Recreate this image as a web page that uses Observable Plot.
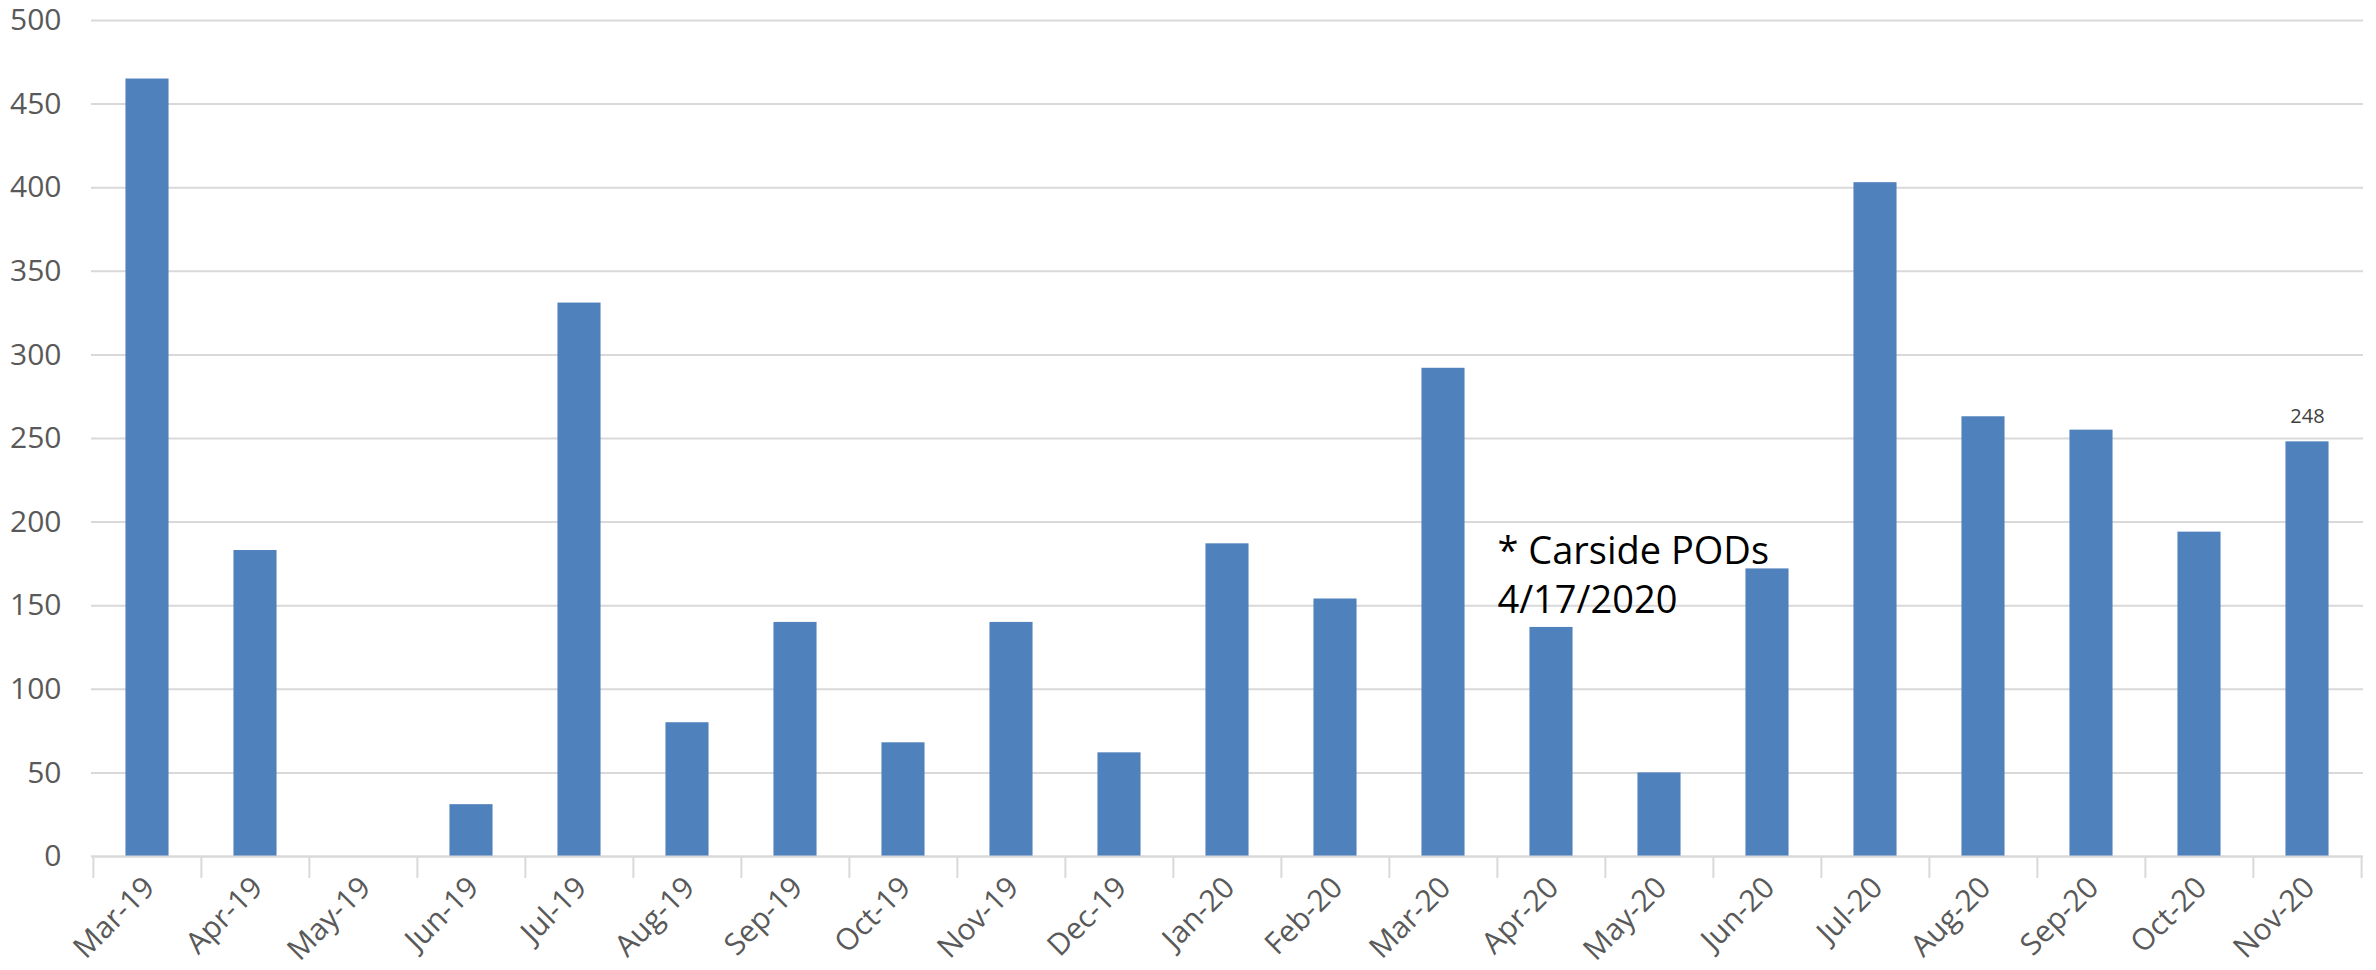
<!DOCTYPE html>
<html><head><meta charset="utf-8">
<script src="https://cdn.jsdelivr.net/npm/d3@7"></script>
<script src="https://cdn.jsdelivr.net/npm/@observablehq/plot@0.6"></script>
<style>body{margin:0;background:#fff}</style>
</head><body><div id="chart"></div>
<script>
const months = ["Mar-19","Apr-19","May-19","Jun-19","Jul-19","Aug-19","Sep-19","Oct-19","Nov-19","Dec-19","Jan-20","Feb-20","Mar-20","Apr-20","May-20","Jun-20","Jul-20","Aug-20","Sep-20","Oct-20","Nov-20"];
const values = [465,183,0,31,331,80,140,68,140,62,187,154,292,137,50,172,403,263,255,194,248];
const yTicks = [0,50,100,150,200,250,300,350,400,450,500];
const annotationTexts = ["* Carside PODs\n4/17/2020"];
const annotationMonths = ["Apr-20"];
const annotationValues = [196];
const labeledMonths = ["Nov-20"];

const data = months.map((m, i) => ({month: m, value: values[i]}));
const notes = annotationTexts.map((t, i) => ({text: t, month: annotationMonths[i], value: annotationValues[i]}));

const W = 2376, H = 970, mL = 91, mR = 13, mT = 20, mB = 114;
const step = (W - mL - mR) / months.length;

const chart = Plot.plot({
  width: W, height: H,
  marginLeft: mL, marginRight: mR, marginTop: mT, marginBottom: mB,
  style: {fontFamily: "'Open Sans', sans-serif", fontSize: "30px", color: "#595959", background: "#fff", overflow: "visible"},
  x: {domain: months, padding: 0, label: null},
  y: {domain: [0, 500], label: null},
  marks: [
    Plot.gridY(yTicks, {stroke: "#d9d9d9", strokeOpacity: 1, strokeWidth: 2}),
    Plot.barY(data, {x: "month", y: "value", fill: "#4f81bd", insetLeft: step * 0.3, insetRight: step * 0.3}),
    Plot.ruleY([0], {stroke: "#d9d9d9", strokeWidth: 2}),
    Plot.axisY(yTicks, {tickSize: 0, tickPadding: 30, fill: "#595959", fontSize: 30, label: null}),
    Plot.axisX({tickSize: 0, tickRotate: -45, tickPadding: 26, dx: 2, fill: "#595959", fontSize: 30, label: null}),
    Plot.axisX(months, {tickSize: 22, tickFormat: () => "", dx: -step / 2, stroke: "#d9d9d9", strokeWidth: 2, label: null}),
    Plot.axisX([months[months.length - 1]], {tickSize: 22, tickFormat: () => "", dx: step / 2, stroke: "#d9d9d9", strokeWidth: 2, label: null}),
    Plot.text(data.filter(d => labeledMonths.includes(d.month)), {x: "month", y: "value", text: d => String(d.value), dy: -25, fontSize: 20, fill: "#404040"}),
    Plot.text(notes, {x: "month", y: "value", text: "text", dx: -step / 2, textAnchor: "start", lineAnchor: "top", lineHeight: 1.3, fontSize: 38, fill: "#000"})
  ]
});
document.getElementById("chart").appendChild(chart);
</script>
</body></html>
